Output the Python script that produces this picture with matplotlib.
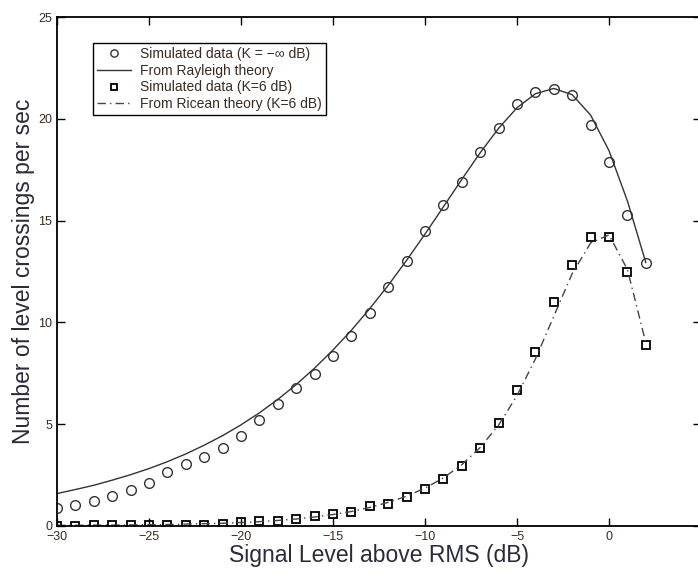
import matplotlib.pyplot as plt

# signal level (dB) relative to RMS
niveluri = [-30, -29, -28, -27, -26, -25, -24, -23, -22, -21, -20, -19, -18, -17, -16, -15, -14,
            -13, -12, -11, -10, -9, -8, -7, -6, -5, -4, -3, -2, -1, 0, 1, 2]

# simulated data, K = -inf dB (Rayleigh)
sim_rayleigh = [0.87, 1.0, 1.23, 1.47, 1.75, 2.11, 2.64, 3.02, 3.39, 3.83, 4.42, 5.2, 5.97, 6.75,
                7.46, 8.34, 9.33, 10.45, 11.73, 13.0, 14.5, 15.75, 16.9, 18.36, 19.55, 20.73,
                21.34, 21.47, 21.17, 19.7, 17.9, 15.27, 12.9]

# Rayleigh theory curve
teorie_rayleigh = [1.58, 1.78, 1.99, 2.24, 2.51, 2.81, 3.15, 3.53, 3.96, 4.43, 4.96, 5.55, 6.21,
                   6.94, 7.75, 8.64, 9.61, 10.68, 11.82, 13.05, 14.34, 15.68, 17.03, 18.34, 19.54,
                   20.55, 21.24, 21.5, 21.19, 20.19, 18.44, 15.97, 12.94]

# simulated data, K = 6 dB (Ricean)
sim_rice = [0.0, 0.0, 0.03, 0.03, 0.05, 0.05, 0.05, 0.05, 0.05, 0.1, 0.17, 0.23, 0.25, 0.35, 0.5,
            0.6, 0.66, 0.98, 1.07, 1.4, 1.79, 2.28, 2.94, 3.83, 5.07, 6.67, 8.56, 11.01, 12.82,
            14.21, 14.21, 12.49, 8.88]

# Ricean theory curve
teorie_rice = [0.02, 0.02, 0.03, 0.03, 0.04, 0.05, 0.06, 0.08, 0.1, 0.12, 0.16, 0.2, 0.26, 0.33,
               0.43, 0.55, 0.7, 0.9, 1.15, 1.45, 1.85, 2.35, 3.0, 3.85, 4.95, 6.4, 8.2, 10.3, 12.4,
               13.9, 14.3, 12.6, 9.0]

plt.rcParams['font.family'] = ['Liberation Sans', 'DejaVu Sans']

fig = plt.figure(figsize=(6.98, 5.75), dpi=100)
# the right edge of the axes sits just outside the picture, like in the original scan
ax = fig.add_axes([0.0817, 0.0857, 0.9226, 0.8843])

ax.plot(niveluri, sim_rayleigh, linestyle='none', marker='o', markersize=7, markerfacecolor='none',
        markeredgecolor='#333333', markeredgewidth=1.0, label='Simulated data (K = \u2212\u221e dB)')
ax.plot(niveluri, teorie_rayleigh, color='#333333', linewidth=1.0, label='From Rayleigh theory')
ax.plot(niveluri, sim_rice, linestyle='none', marker='s', markersize=5.5, markerfacecolor='none',
        markeredgecolor='black', markeredgewidth=1.3, label='Simulated data (K=6 dB)')
ax.plot(niveluri, teorie_rice, color='#444444', linewidth=1.0, linestyle=(0, (6, 3, 1, 3)),
        label='From Ricean theory (K=6 dB)')

ax.set_xlim(-30, 5)
ax.set_ylim(0, 25)
ax.set_xticks([-30, -25, -20, -15, -10, -5, 0, 5])
ax.set_yticks([0, 5, 10, 15, 20, 25])
ax.set_xticklabels(['\u221230', '\u221225', '\u221220', '\u221215', '\u221210', '\u22125', '0', '5'])
ax.tick_params(direction='in', top=True, right=True, length=6, width=1.0, labelsize=9,
               colors='black', labelcolor='#3a2a20')
for s in ax.spines.values():
    s.set_linewidth(1.3)

ax.set_xlabel('Signal Level above RMS (dB)', fontsize=16.5, color='#2a2a3a', labelpad=1)
ax.set_ylabel('Number of level crossings per sec', fontsize=16.5, color='#2a2a3a', labelpad=2)

leg = ax.legend(loc='upper left', bbox_to_anchor=(0.056, 0.95), fontsize=10, frameon=True,
                fancybox=False, edgecolor='black', framealpha=1, handlelength=2.4,
                borderpad=0.3, labelspacing=0.2, handletextpad=0.7, markerscale=0.75,
                borderaxespad=0)
leg.get_frame().set_linewidth(1.0)
for t in leg.get_texts():
    t.set_color('#3a2a20')

fig.savefig('out.png', dpi=100)
